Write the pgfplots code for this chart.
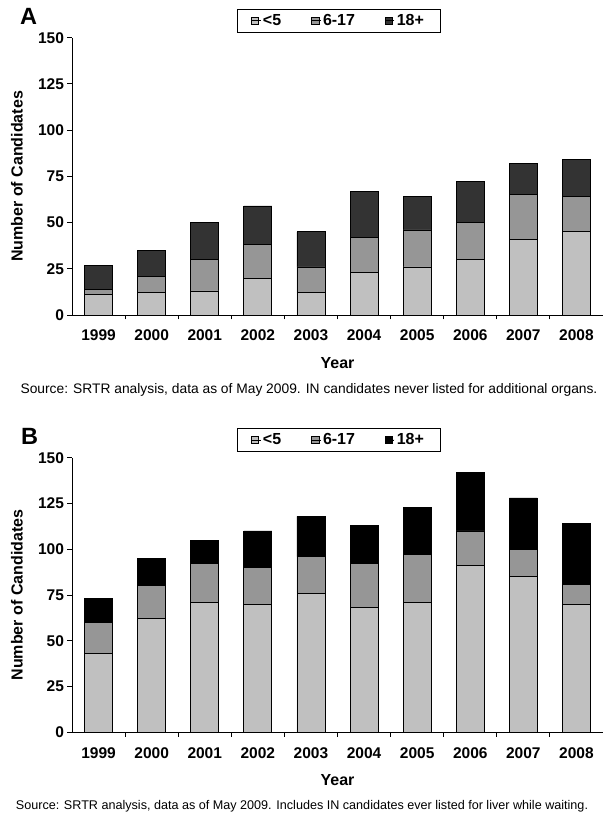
\documentclass[border=0pt]{standalone}
\usepackage{pgfplots}
\pgfplotsset{compat=1.18}
\usepackage{pgfplotstable}
\usepackage{fontspec}
\setmainfont{Liberation Sans}
\definecolor{cLow}{HTML}{C0C0C0}
\definecolor{cMid}{HTML}{969696}
\definecolor{cHiA}{HTML}{333333}
\definecolor{cHiB}{HTML}{000000}

\pgfplotstableread{
x lt5 mid adult
0 11 3 13
1 12 9 14
2 13 17 20
3 20 18 21
4 12 14 19
5 23 19 25
6 26 20 18
7 30 20 22
8 41 24 17
9 45 19 20
}\dataA

\pgfplotstableread{
x lt5 mid adult
0 43 17 13
1 62 18 15
2 71 21 13
3 70 20 20
4 76 20 22
5 68 24 21
6 71 26 26
7 91 19 32
8 85 15 28
9 70 11 33
}\dataB

\pgfplotsset{
  panel/.style={
    anchor=south west,
    width=531pt, scale only axis,
    ybar stacked, bar width=28pt,
    xmin=-0.5, xmax=9.5, ymin=0, ymax=150,
    enlargelimits=false,
    axis x line*=bottom, axis y line*=left,
    axis line style={-, line width=0.9pt, black},
    ytick={0,25,...,150},
    xtick={0,...,9},
    xticklabels={1999,2000,2001,2002,2003,2004,2005,2006,2007,2008},
    minor xtick={0.5,1.5,...,8.5},
    tick align=outside,
    major x tick style={draw=none},
    minor x tick style={line width=0.9pt, black},
    y tick style={line width=0.9pt, black},
    major tick length=4.5pt, minor tick length=4.5pt,
    /pgf/number format/assume math mode=true,
    tick label style={font=\fontsize{15.5}{15.5}\selectfont\bfseries},
    xticklabel style={yshift=-7pt},
    label style={font=\fontsize{16}{16}\selectfont\bfseries},
    xlabel={Year},
    ylabel={Number of Candidates},
    ylabel style={at={(axis description cs:-0.1036,0.5)}, anchor=center},
    legend columns=3,
    legend image code/.code={\draw[#1, draw=black, line width=0.6pt] (0pt,-3.6pt) rectangle (7.2pt,3.6pt);
      \path (0pt,0pt) -- (9pt,0pt);},
    legend style={draw=black, line width=0.8pt, anchor=south,
      font=\fontsize{16}{16}\selectfont\bfseries,
      inner xsep=14pt, inner ysep=3.5pt,
      /tikz/every even column/.append style={column sep=28pt}},
    every axis plot/.append style={draw=black, line width=0.8pt},
  }
}

\begin{document}
\begin{tikzpicture}
\path[use as bounding box] (0pt,0pt) rectangle (603pt,818pt);

% Panel A
\begin{axis}[panel, at={(72pt,503pt)}, height=277.3pt,
  xlabel style={at={(axis description cs:0.5,-0.172)}, anchor=center},
  legend style={at={(0.502,1.017)}}]
\addplot[fill=cLow] table[x=x,y=lt5] {\dataA};
\addplot[fill=cMid] table[x=x,y=mid] {\dataA};
\addplot[fill=cHiA] table[x=x,y=adult] {\dataA};
\legend{<5,6-17,18+}
\end{axis}
\node[anchor=base west, inner sep=0pt, font=\fontsize{23.5}{23.5}\selectfont\bfseries] at (20pt,793pt) {A};
\node[anchor=center, inner sep=0pt, font=\fontsize{13.8}{13.8}\selectfont] at (309pt,428pt)
  {Source: SRTR analysis, data as of May 2009. IN candidates never listed for additional organs.};

% Panel B
\begin{axis}[panel, at={(72pt,85.7pt)}, height=274.6pt,
  xlabel style={at={(axis description cs:0.5,-0.1737)}, anchor=center},
  legend style={at={(0.502,1.02)}}]
\addplot[fill=cLow] table[x=x,y=lt5] {\dataB};
\addplot[fill=cMid] table[x=x,y=mid] {\dataB};
\addplot[fill=cHiB] table[x=x,y=adult] {\dataB};
\legend{<5,6-17,18+}
\end{axis}
\node[anchor=base west, inner sep=0pt, font=\fontsize{23.5}{23.5}\selectfont\bfseries] at (21pt,373pt) {B};
\node[anchor=center, inner sep=0pt, font=\fontsize{12.6}{12.6}\selectfont] at (302pt,12pt)
  {Source: SRTR analysis, data as of May 2009. Includes IN candidates ever listed for liver while waiting.};
\end{tikzpicture}
\end{document}
